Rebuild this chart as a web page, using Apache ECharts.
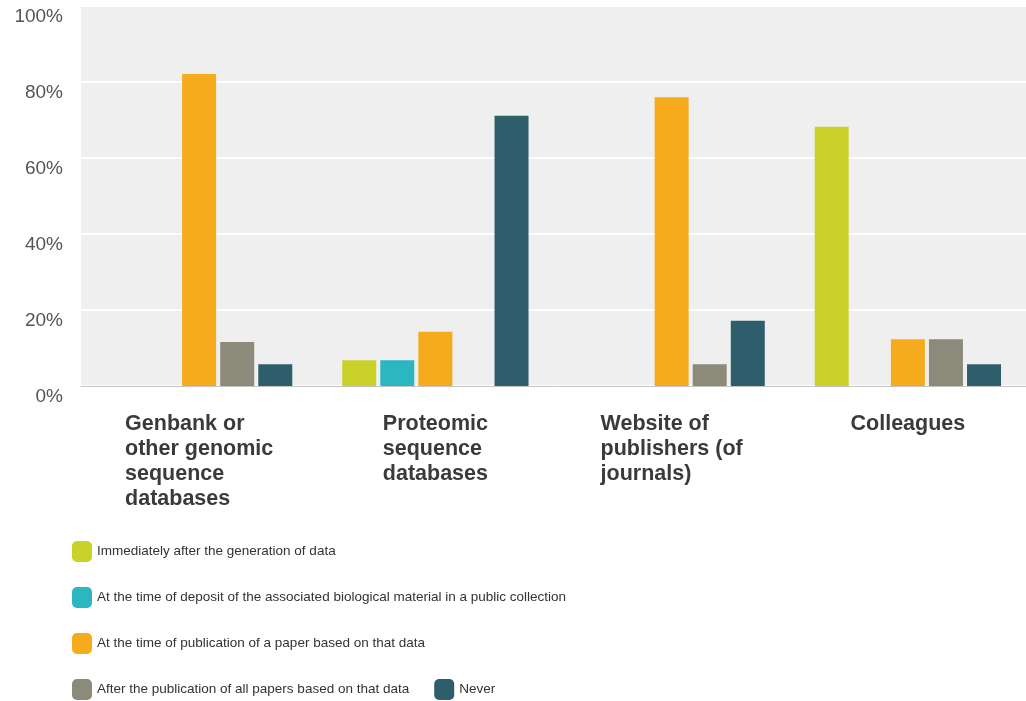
<!DOCTYPE html>
<html>
<head>
<meta charset="utf-8">
<script src="https://cdn.jsdelivr.net/npm/echarts@6/dist/echarts.min.js"></script>
<style>
  html, body { margin: 0; padding: 0; background: #ffffff; }
  #chart { width: 1026px; height: 701px; }
</style>
</head>
<body>
<div id="chart"></div>
<script>
// Where researchers publish sequence data, and when (share of respondents, %)
const categories = [
  'Genbank or\nother genomic\nsequence\ndatabases',
  'Proteomic\nsequence\ndatabases',
  'Website of\npublishers (of\njournals)',
  'Colleagues'
];
const seriesNames = [
  'Immediately after the generation of data',
  'At the time of deposit of the associated biological material in a public collection',
  'At the time of publication of a paper based on that data',
  'After the publication of all papers based on that data',
  'Never'
];
const immediately = [0, 6.8, 0, 68.2];
const atDeposit = [0, 6.8, 0, 0];
const atPublication = [82.1, 14.3, 76.0, 12.3];
const afterAllPapers = [11.6, 0, 5.7, 12.3];
const never = [5.7, 71.1, 17.2, 5.7];
const yTicks = [0, 20, 40, 60, 80, 100];

const colors = ['#cad22a', '#2cb6c0', '#f6ab1c', '#8b8a7b', '#2e5d6b'];
const values = [immediately, atDeposit, atPublication, afterAllPapers, never];

const chart = echarts.init(document.getElementById('chart'), null, { renderer: 'canvas' });

chart.setOption({
  animation: false,
  backgroundColor: '#ffffff',
  color: colors,
  grid: {
    left: 81, top: 6, width: 947, height: 380,
    show: true, backgroundColor: '#efefef', borderWidth: 0
  },
  legend: {
    left: 67, top: 536, width: 500,
    orient: 'horizontal',
    itemWidth: 20, itemHeight: 21, itemGap: 25,
    icon: 'roundRect',
    selectedMode: false,
    data: seriesNames,
    textStyle: {
      fontFamily: '"Liberation Sans", Arial, sans-serif',
      fontSize: 13.5, color: '#333333'
    }
  },
  xAxis: {
    type: 'category',
    data: categories,
    axisLine: { lineStyle: { color: '#c4c4c4', width: 1 } },
    axisTick: { show: false },
    axisLabel: {
      margin: 26,
      interval: 0,
      formatter: v => v.split('\n').map(line => '{a|' + line + '}').join('\n'),
      rich: {
        a: {
          align: 'left',
          fontFamily: '"Liberation Sans", Arial, sans-serif',
          fontWeight: 'bold', fontSize: 21.5, lineHeight: 25, color: '#3a3a3a'
        }
      }
    }
  },
  yAxis: {
    type: 'value',
    min: yTicks[0], max: yTicks[yTicks.length - 1], interval: yTicks[1] - yTicks[0],
    axisLine: { show: false },
    axisTick: { show: false },
    splitLine: { lineStyle: { color: '#ffffff', width: 2 } },
    axisLabel: {
      margin: 18,
      verticalAlign: 'top',
      padding: [1, 0, 0, 0],
      formatter: '{value}%',
      fontFamily: '"Liberation Sans", Arial, sans-serif',
      fontSize: 19, color: '#555555'
    }
  },
  series: seriesNames.map((name, i) => ({
    name,
    type: 'bar',
    data: values[i],
    barWidth: 34,
    barGap: '12%',
    itemStyle: { color: colors[i] }
  }))
});
</script>
</body>
</html>
